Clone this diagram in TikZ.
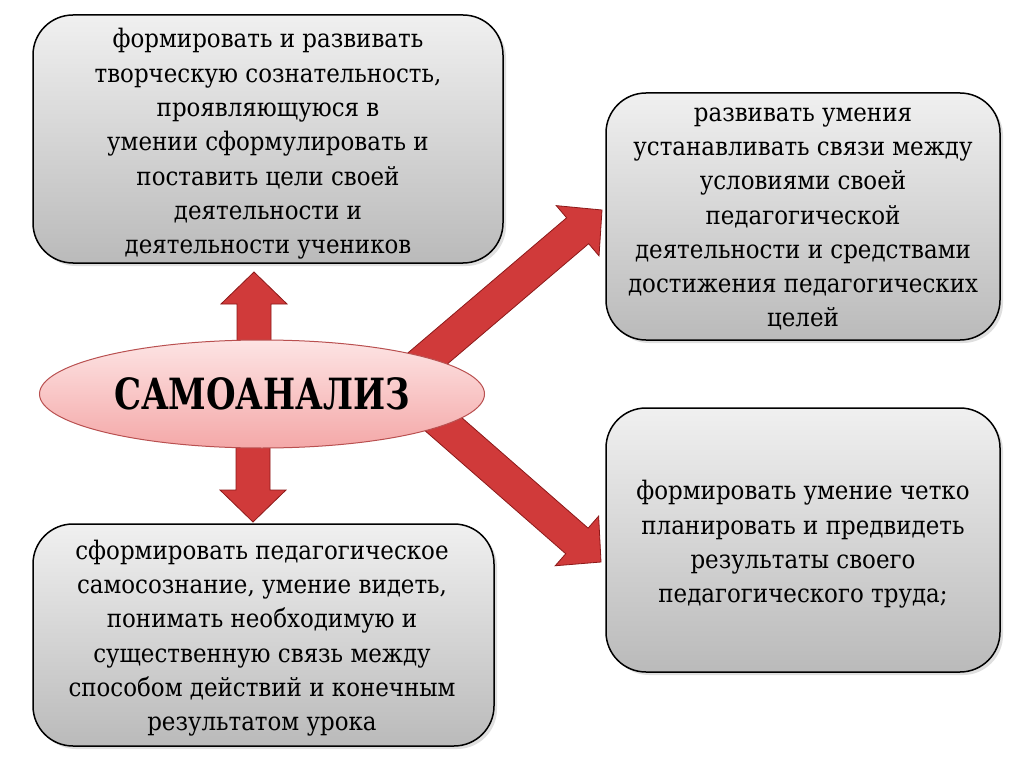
\documentclass[tikz,border=0pt]{standalone}
\usepackage{fontspec}
\setmainfont{DejaVu Serif}[FakeStretch=0.9]
\newfontfamily\titlefont{DejaVu Serif}[FakeStretch=0.79]
\usetikzlibrary{calc,shapes.geometric,shadows}
\definecolor{boxtop}{RGB}{240,240,240}
\definecolor{boxbot}{RGB}{186,186,186}
\definecolor{pinktop}{RGB}{253,228,228}
\definecolor{pinkbot}{RGB}{244,168,168}
\definecolor{pinkline}{RGB}{185,80,80}
\definecolor{arrowred}{RGB}{208,58,58}
\definecolor{arrowdark}{RGB}{140,25,25}
\newcommand\fatarrow[3]{%
  \coordinate (#3h) at ($(#2)!32pt!(#1)$);
  \filldraw[arrowshape] ($(#1)!17pt!90:(#2)$) -- ($(#3h)!17pt!90:(#2)$) -- ($(#3h)!33pt!90:(#2)$) -- (#2)
    -- ($(#3h)!33pt!-90:(#2)$) -- ($(#3h)!17pt!-90:(#2)$) -- ($(#1)!17pt!-90:(#2)$) -- cycle;
}
\tikzset{
  infobox/.style={draw=black, line width=1.5pt, rounded corners=40pt, top color=boxtop, bottom color=boxbot,
    drop shadow={shadow xshift=3pt, shadow yshift=-3pt, opacity=0.25}, inner sep=0pt},
  txt/.style={align=center, font=\fontsize{25.5}{34.3}\selectfont, inner sep=0pt},
  arrowshape/.style={fill=arrowred, draw=arrowdark, line width=0.8pt, line join=miter},
}
\begin{document}
\begin{tikzpicture}[x=1pt, y=-1pt]
\useasboundingbox[fill=white] (0,0) rectangle (1024,767);
% arrow anchor coordinates
\coordinate (upS) at (254,380);
\coordinate (upE) at (254,272);
\coordinate (dnS) at (253,410);
\coordinate (dnE) at (253,522);
\coordinate (urS) at (400,382);
\coordinate (urE) at (602,210);
\coordinate (drS) at (410,395);
\coordinate (drE) at (601,562);
\fatarrow{upS}{upE}{up}
\fatarrow{dnS}{dnE}{dn}
\fatarrow{urS}{urE}{ur}
\fatarrow{drS}{drE}{dr}
% boxes
\node[infobox, minimum width=470pt, minimum height=248pt] (tl) at (268,139) {};
\node[infobox, minimum width=394pt, minimum height=247pt] (tr) at (803,216.5) {};
\node[infobox, minimum width=394pt, minimum height=264pt] (br) at (803,540) {};
\node[infobox, minimum width=461pt, minimum height=222pt] (bl) at (263.5,635) {};
% texts
\node[txt] (tltext) at (268,144) {формировать и развивать\\творческую сознательность,\\проявляющуюся в\\умении сформулировать и\\поставить цели своей\\деятельности и\\деятельности учеников};
\node[txt] (trtext) at (803,219) {развивать умения\\устанавливать связи между\\условиями своей\\педагогической\\деятельности и средствами\\достижения педагогических\\целей};
\node[txt] (brtext) at (803,544.5) {формировать умение четко\\планировать и предвидеть\\результаты своего\\педагогического труда;};
\node[txt] (bltext) at (262,638) {сформировать педагогическое\\самосознание, умение видеть,\\понимать необходимую и\\существенную связь между\\способом действий и конечным\\результатом урока};
% central ellipse
\node[ellipse, draw=pinkline, line width=1pt, top color=pinktop, bottom color=pinkbot,
  minimum width=445pt, minimum height=108pt, inner sep=0pt,
  font=\titlefont\bfseries\fontsize{43}{43}\selectfont] (sa) at (262,394) {САМОАНАЛИЗ};
\end{tikzpicture}
\end{document}
